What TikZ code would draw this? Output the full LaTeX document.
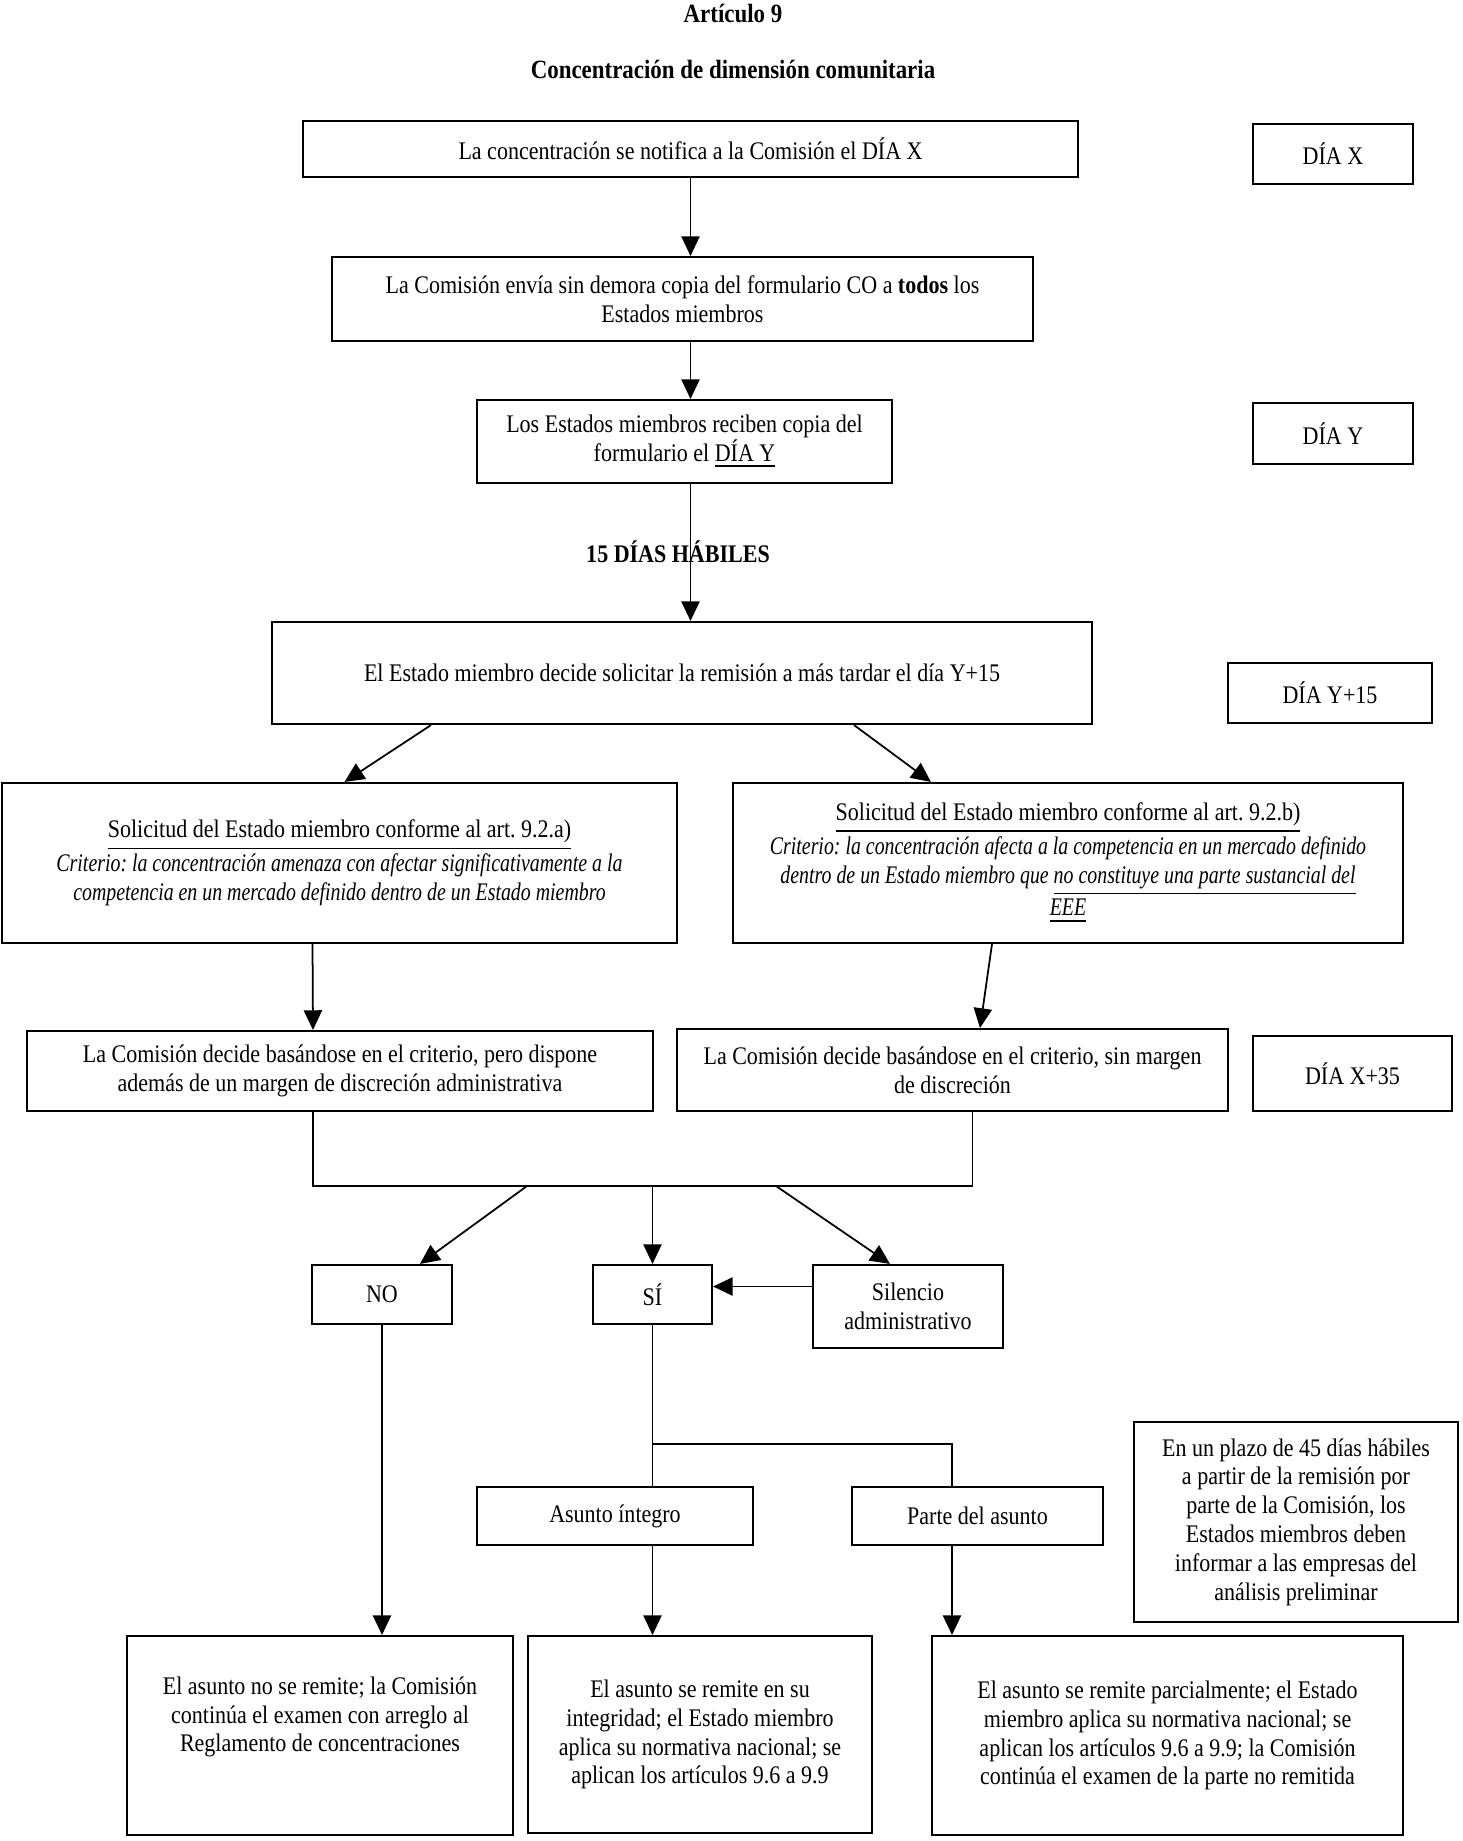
\documentclass[tikz,border=0pt]{standalone}
\usepackage{fontspec}
\setmainfont{Liberation Serif}[FakeStretch=0.87, ItalicFeatures={FakeStretch=0.785}]
\usepackage{tikz}
\usetikzlibrary{arrows.meta, positioning}
\newcommand{\txt}{\fontsize{7.2}{8.2}\selectfont}
\frenchspacing

\begin{document}
\begin{tikzpicture}[>={Triangle[width=5.2pt,length=5.6pt]}, font=\txt,
    box/.style={draw, line width=0.6pt, align=center, inner sep=2pt},
    head/.style={font=\fontsize{7.5}{9}\selectfont\bfseries},
    arr/.style={->, line width=0.5pt},
    lin/.style={line width=0.5pt}]
    \useasboundingbox (0,0) rectangle (14.63,-18.41);

    % --- Heading ---
    \node[head] (art) at (7.33, -0.13) {Artículo 9};
    \node[head] (tit) at (7.33, -0.69) {Concentración de dimensión comunitaria};

    % --- Notification ---
    \node[box, minimum width=7.75cm, minimum height=0.56cm] (notif) at (6.905, -1.49)
      {La concentración se notifica a la Comisión el DÍA X};
    \node[box, minimum width=1.60cm, minimum height=0.60cm] (diax) at (13.33, -1.54) {DÍA X};
    \node[box, minimum width=7.01cm, minimum height=0.84cm] (envia) at (6.825, -2.99)
      {La Comisión envía sin demora copia del formulario CO a \textbf{todos} los\\Estados miembros};
    \node[box, minimum width=4.15cm, minimum height=0.83cm] (recib) at (6.845, -4.415)
      {Los Estados miembros reciben copia del\\formulario el \underline{DÍA Y}};
    \node[box, minimum width=1.60cm, minimum height=0.61cm] (diay) at (13.33, -4.335) {DÍA Y};
    \node[font=\txt\bfseries] (quince) at (6.78, -5.52) {15 DÍAS HÁBILES};

    % --- Request ---
    \node[box, minimum width=8.20cm, minimum height=1.02cm] (solic) at (6.82, -6.73)
      {El Estado miembro decide solicitar la remisión a más tardar el día Y+15};
    \node[box, minimum width=2.04cm, minimum height=0.60cm] (diay15) at (13.30, -6.93) {DÍA Y+15};
    \node[box, minimum width=6.75cm, minimum height=1.60cm] (reqa) at (3.395, -8.63)
      {\underline{Solicitud del Estado miembro conforme al art. 9.2.a)}\\
       \textit{Criterio: la concentración amenaza con afectar significativamente a la}\\
       \textit{competencia en un mercado definido dentro de un Estado miembro}};
    \node[box, minimum width=6.70cm, minimum height=1.60cm] (reqb) at (10.68, -8.63)
      {\underline{Solicitud del Estado miembro conforme al art. 9.2.b)}\\
       \textit{Criterio: la concentración afecta a la competencia en un mercado definido}\\
       \textit{dentro de un Estado miembro que \underline{no constituye una parte sustancial del}}\\
       \textit{\underline{EEE}}};

    % --- Decision ---
    \node[box, minimum width=6.26cm, minimum height=0.80cm] (deca) at (3.40, -10.71)
      {La Comisión decide basándose en el criterio, pero dispone\\además de un margen de discreción administrativa};
    \node[box, minimum width=5.51cm, minimum height=0.82cm] (decb) at (9.525, -10.70)
      {La Comisión decide basándose en el criterio, sin margen\\de discreción};
    \node[box, minimum width=1.99cm, minimum height=0.75cm] (diax35) at (13.525, -10.735) {DÍA X+35};

    \node[box, minimum width=1.40cm, minimum height=0.59cm] (no) at (3.82, -12.945) {NO};
    \node[box, minimum width=1.19cm, minimum height=0.59cm] (si) at (6.525, -12.945) {SÍ};
    \node[box, minimum width=1.90cm, minimum height=0.83cm] (sil) at (9.08, -13.065)
      {Silencio\\administrativo};

    % --- Referral ---
    \node[box, minimum width=2.76cm, minimum height=0.58cm] (asunto) at (6.15, -15.16) {Asunto íntegro};
    \node[box, minimum width=2.51cm, minimum height=0.58cm] (parte) at (9.775, -15.16) {Parte del asunto};
    \node[box, minimum width=3.24cm, minimum height=2.00cm] (nota) at (12.96, -15.22)
      {En un plazo de 45 días hábiles\\a partir de la remisión por\\parte de la Comisión, los\\Estados miembros deben\\informar a las empresas del\\análisis preliminar};

    % --- Outcome ---
    \node[box, minimum width=3.86cm, minimum height=1.99cm] (noremite) at (3.20, -17.355)
      {El asunto no se remite; la Comisión\\continúa el examen con arreglo al\\Reglamento de concentraciones\\[0.05cm]\strut};
    \node[box, minimum width=3.44cm, minimum height=1.97cm] (integ) at (7.00, -17.345)
      {El asunto se remite en su\\integridad; el Estado miembro\\aplica su normativa nacional; se\\aplican los artículos 9.6 a 9.9};
    \node[box, minimum width=4.71cm, minimum height=1.99cm] (parc) at (11.675, -17.355)
      {El asunto se remite parcialmente; el Estado\\miembro aplica su normativa nacional; se\\aplican los artículos 9.6 a 9.9; la Comisión\\continúa el examen de la parte no remitida};

    % --- Edges ---
    \draw[arr] (notif.south) -- (notif.south |- envia.north);
    \draw[arr] (envia.south -| notif.south) -- (recib.north -| notif.south);
    \draw[arr] (recib.south -| notif.south) -- (solic.north -| notif.south);
    \draw[arr] ([xshift=-2.51cm]solic.south) -- ([xshift=0.05cm]reqa.north);
    \draw[arr] ([xshift=1.72cm]solic.south) -- ([xshift=-1.37cm]reqb.north);
    \draw[arr] ([xshift=-0.27cm]reqa.south) -- ([xshift=-0.27cm]deca.north);
    \draw[arr] ([xshift=-0.76cm]reqb.south) -- ([xshift=0.275cm]decb.north);

    \coordinate (join) at (6.4, -11.86);
    \coordinate (jno) at (5.27, -11.86);
    \coordinate (jsi) at (6.525, -11.86);
    \coordinate (jsil) at (7.76, -11.86);
    \draw[lin] ([xshift=-0.27cm]deca.south) |- (join) -| ([xshift=0.2cm]decb.south);
    \draw[arr] (jno) -- ([xshift=0.38cm]no.north);
    \draw[arr] (jsi) -- (si.north);
    \draw[arr] (jsil) -- ([xshift=-0.18cm]sil.north);
    \draw[arr] ([yshift=0.2cm]sil.west) -- ([yshift=0.2cm]sil.west -| si.east);

    \coordinate (split) at (6.525, -14.44);
    \draw[arr] (no.south) -- (no.south |- noremite.north);
    \draw[lin] (si.south) -- (si.south |- asunto.north);
    \draw[lin] (split) -| ([xshift=-0.255cm]parte.north);
    \draw[arr] (si.south |- asunto.south) -- (si.south |- integ.north);
    \draw[arr] ([xshift=-0.255cm]parte.south) -- ([xshift=-0.255cm]parte.south |- parc.north);
\end{tikzpicture}
\end{document}
